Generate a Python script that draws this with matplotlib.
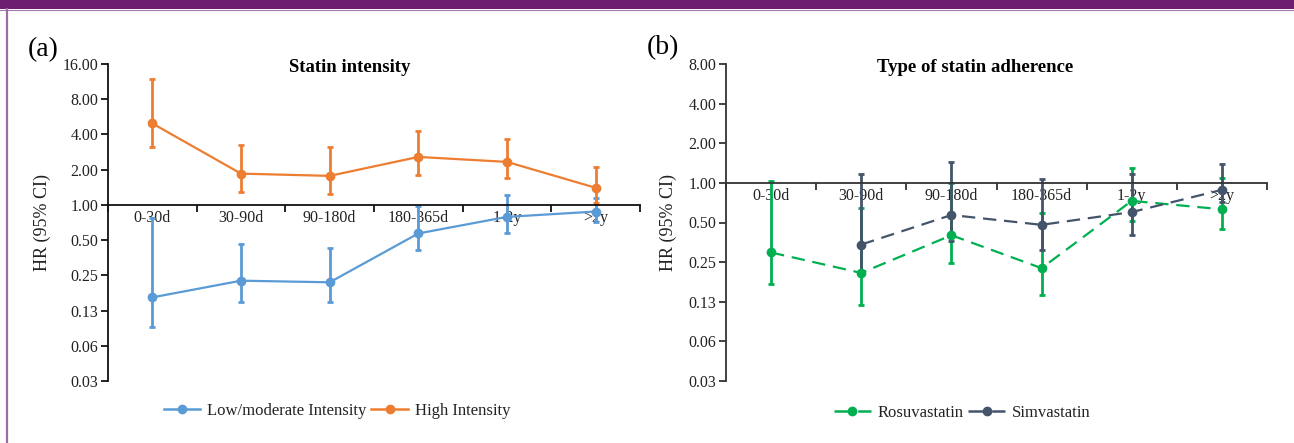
import numpy as np
import matplotlib.pyplot as plt
from matplotlib.patches import Rectangle
from matplotlib.lines import Line2D

plt.rcParams['font.family'] = ['Liberation Serif', 'DejaVu Serif']

categories = ['0-30d', '30-90d', '90-180d', '180-365d', '1-2y', '>2y']

# (a) statin intensity
low_hr = [0.162, 0.225, 0.218, 0.57, 0.79, 0.877]
low_lo = [0.091, 0.149, 0.149, 0.41, 0.58, 0.72]
low_hi = [0.78, 0.46, 0.43, 0.97, 1.21, 1.15]
high_hr = [4.97, 1.85, 1.77, 2.57, 2.33, 1.40]
high_lo = [3.14, 1.30, 1.25, 1.79, 1.69, 1.03]
high_hi = [11.8, 3.25, 3.12, 4.27, 3.67, 2.12]

# (b) type of statin
rosu_hr = [0.296, 0.207, 0.40, 0.225, 0.73, 0.63]
rosu_lo = [0.172, 0.119, 0.246, 0.14, 0.51, 0.45]
rosu_hi = [1.04, 0.65, 0.99, 0.59, 1.29, 1.085]
simv_hr = [np.nan, 0.34, 0.57, 0.48, 0.60, 0.885]
simv_lo = [np.nan, 0.21, 0.36, 0.31, 0.40, 0.72]
simv_hi = [np.nan, 1.17, 1.45, 1.07, 1.16, 1.39]

ticks_a = [1/32, 1/16, 1/8, 1/4, 1/2, 1, 2, 4, 8, 16]
labels_a = ['0.03', '0.06', '0.13', '0.25', '0.50', '1.00', '2.00', '4.00', '8.00', '16.00']
ticks_b = ticks_a[:-1]
labels_b = labels_a[:-1]

fig = plt.figure(figsize=(12.94, 4.43), dpi=100)

# purple frame
fig.add_artist(Rectangle((0, 1 - 9/443), 1, 9/443, transform=fig.transFigure,
                         color='#6B1F6E', lw=0))
fig.add_artist(Line2D([0, 1], [1 - 9.5/443] * 2, transform=fig.transFigure,
                      color='#A07AAA', lw=0.8))
fig.add_artist(Line2D([6.5/1294] * 2, [0, 1 - 9/443], transform=fig.transFigure,
                      color='#9E6AA8', lw=1.6))

bottom = 1 - 381/443
height = (381 - 64)/443
ax1 = fig.add_axes([108/1294, bottom, (640 - 108)/1294, height])
ax2 = fig.add_axes([726/1294, bottom, (1267 - 726)/1294, height])

x = np.arange(1, 7)


def series(ax, hr, lo, hi, color, ls):
    hr = np.array(hr)
    err = [hr - np.array(lo), np.array(hi) - hr]
    dashes = (6, 3.5) if ls == '--' else (None, None)
    ax.errorbar(x, hr, yerr=err, color=color, lw=1.6, ls=ls, dashes=dashes,
                marker='o', ms=6, elinewidth=2.0, capsize=2.5, capthick=2.0)
    return Line2D([], [], color=color, lw=1.8, ls=ls, dashes=dashes, marker='o', ms=6)


def style(ax, ticks, labels, color):
    ax.set_yscale('log', base=2)
    ax.set_ylim(ticks[0], ticks[-1])
    ax.set_yticks(ticks)
    ax.set_yticklabels(labels)
    ax.yaxis.set_minor_locator(plt.NullLocator())
    ax.set_xlim(0.5, 6.5)
    ax.spines['top'].set_visible(False)
    ax.spines['right'].set_visible(False)
    ax.spines['bottom'].set_position(('data', 1))
    ax.spines['bottom'].set_color(color)
    ax.spines['left'].set_color(color)
    ax.spines['bottom'].set_linewidth(1.3)
    ax.spines['left'].set_linewidth(1.3)
    ax.set_xticks(np.arange(0.5, 7, 1))
    ax.set_xticklabels([])
    ax.set_xticks(x, minor=True)
    ax.set_xticklabels(categories, minor=True)
    ax.tick_params(axis='x', which='major', direction='out', length=5, width=1.3, color=color)
    ax.tick_params(axis='x', which='minor', length=0, pad=4, labelsize=11.5, labelcolor='#222222')
    ax.tick_params(axis='y', direction='out', length=5, width=1.3, color=color, labelsize=11.5,
                   labelcolor='#222222', pad=2)
    ax.set_ylabel('HR (95% CI)', fontsize=13, color='#222222', labelpad=8)
    ax.set_facecolor('none')


h_low = series(ax1, low_hr, low_lo, low_hi, '#5B9BD5', '-')
h_high = series(ax1, high_hr, high_lo, high_hi, '#ED7D31', '-')
style(ax1, ticks_a, labels_a, '#111111')

h_rosu = series(ax2, rosu_hr, rosu_lo, rosu_hi, '#00B050', '--')
h_simv = series(ax2, simv_hr, simv_lo, simv_hi, '#44546A', '--')
style(ax2, ticks_b, labels_b, '#333333')

fig.text(350/1294, 1 - 67/443, 'Statin intensity', ha='center', va='center',
         fontsize=13.5, fontweight='bold')
fig.text(975/1294, 1 - 67/443, 'Type of statin adherence', ha='center', va='center',
         fontsize=13.5, fontweight='bold')
fig.text(28/1294, 1 - 50/443, '(a)', ha='left', va='center', fontsize=20)
fig.text(647/1294, 1 - 48/443, '(b)', ha='left', va='center', fontsize=20)

legends = [
    (ax1, [h_low, h_high], ['Low/moderate Intensity', 'High Intensity'], 337/1294, 1 - 411/443),
    (ax2, [h_rosu, h_simv], ['Rosuvastatin', 'Simvastatin'], 962/1294, 1 - 413/443),
]
for ax, handles, names, xc, yc in legends:
    ax.legend(handles, names, loc='center', bbox_to_anchor=(xc, yc), bbox_transform=fig.transFigure,
              ncol=2, frameon=False, fontsize=12, handlelength=2.2, handletextpad=0.4,
              columnspacing=0.3, labelcolor='#222222')

fig.savefig('out.png', dpi=100)
